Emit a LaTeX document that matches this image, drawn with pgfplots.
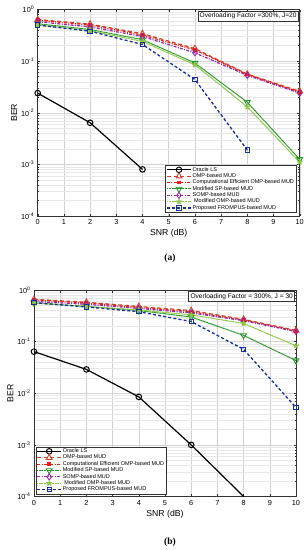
\documentclass[border=0pt]{standalone}
\usepackage{fontspec}
\setmainfont{Liberation Sans}
\newfontfamily\capfont{Liberation Serif}
\usepackage{pgfplots}
\pgfplotsset{compat=1.18}
\definecolor{colomp}{RGB}{200,70,40}
\definecolor{colceomp}{RGB}{235,30,30}
\definecolor{colsp}{RGB}{40,150,40}
\definecolor{colsomp}{RGB}{150,40,160}
\definecolor{colmomp}{RGB}{140,200,70}
\definecolor{colfr}{RGB}{25,45,155}
\pgfplotsset{
 legend image code/.code={\draw[mark repeat=2,mark phase=2,#1] plot coordinates {(0cm,0cm) (0.42cm,0cm) (0.84cm,0cm)};},
 every axis/.append style={
  scale only axis, width=262pt, height=206.5pt,
  xmin=0, xmax=10, ymin=1e-4, ymax=1,
  xtick={0,...,10}, ytick={1e-4,1e-3,1e-2,1e-1,1},
  yticklabels={10\textsuperscript{-4},10\textsuperscript{-3},10\textsuperscript{-2},10\textsuperscript{-1},10\textsuperscript{0}},
  grid=both, major grid style={gray!35, line width=0.4pt}, minor grid style={gray!18, line width=0.35pt},
  tick align=inside, axis line style={black!80, line width=0.5pt},
  major tick length=2.5pt, minor tick length=1.5pt,
  tick style={black!80, line width=0.35pt},
  tick label style={font=\fontsize{7.3}{8}\selectfont},
  label style={font=\fontsize{8.7}{10}\selectfont},
  xlabel style={yshift=2pt}, ylabel style={yshift=-3pt},
  /pgf/number format/assume math mode=true,
  legend cell align=left,
  legend style={font=\fontsize{5.5}{6}\selectfont, draw=black!80, line width=0.5pt, inner sep=0.8pt, row sep=-1.1pt, nodes={inner sep=1pt}},
 },
 sorac/.style={black, line width=1.2pt, mark=o, mark size=2.8pt, mark options={solid, line width=1pt}},
 somp1/.style={colomp, line width=1.2pt, dash pattern=on 4pt off 2.5pt, mark=triangle, mark size=3.4pt, mark options={solid, line width=0.9pt}},
 sceomp/.style={colceomp, line width=1.2pt, dash pattern=on 3pt off 1.3pt on 1pt off 1.3pt, mark=square*, mark size=1.3pt, mark options={solid}},
 smsp/.style={colsp, line width=1pt, dash pattern=on 1.2pt off 0.4pt, mark=triangle, mark size=3.4pt, mark options={solid, rotate=180, line width=0.9pt}},
 ssomp/.style={colsomp, line width=1.2pt, dash pattern=on 3pt off 1.3pt on 1pt off 1.3pt, mark=diamond, mark size=3pt, mark options={solid, line width=0.9pt}},
 smomp/.style={colmomp, line width=1pt, dash pattern=on 1.2pt off 0.4pt, mark=star, mark size=2.8pt, mark options={solid, line width=1.4pt}},
 sfr/.style={colfr, line width=1.3pt, dash pattern=on 3pt off 2.2pt, mark=square, mark size=2.2pt, mark options={solid, line width=0.9pt, fill=colfr!25}},
}
\begin{document}
\begin{tikzpicture}
\path[use as bounding box] (0,0) rectangle (307pt,-550pt);
% ---------------- (a)
\begin{semilogyaxis}[at={(37.7pt,-9.5pt)}, anchor=north west,
  xlabel={SNR (dB)}, ylabel={BER},
  legend style={at={(0.986,0.015)}, anchor=south east}]
\addplot[sorac] coordinates {(0,0.024) (2,0.0064) (4,0.0008)};
\addplot[somp1] coordinates {(0,0.64) (2,0.52) (4,0.34) (6,0.175) (8,0.056) (10,0.026)};
\addplot[sceomp] coordinates {(0,0.62) (2,0.50) (4,0.32) (6,0.165) (8,0.055) (10,0.025)};
\addplot[smsp] coordinates {(0,0.53) (2,0.41) (4,0.26) (6,0.092) (8,0.016) (10,0.00125)};
\addplot[ssomp] coordinates {(0,0.58) (2,0.46) (4,0.30) (6,0.145) (8,0.053) (10,0.024)};
\addplot[smomp] coordinates {(0,0.50) (2,0.39) (4,0.24) (6,0.085) (8,0.013) (10,0.0011)};
\addplot[sfr] coordinates {(0,0.50) (2,0.38) (4,0.21) (6,0.044) (8,0.0019)};
\legend{Oracle LS, OMP-based MUD, Computational Efficient OMP-based MUD, Modified SP-based MUD, SOMP-based MUD, \ Modified OMP-based MUD, Proposed FROMPUS-based MUD}
\node[draw=black!80, fill=white, line width=0.5pt, inner sep=1.8pt, anchor=north east, font=\fontsize{6.6}{7}\selectfont] at (rel axis cs:0.996,0.993) {Overloading Factor =300\%, J=20};
\end{semilogyaxis}
\node[font=\capfont\bfseries\fontsize{9.5}{10}\selectfont] at (170pt,-258pt) {(a)};
% ---------------- (b)
\begin{semilogyaxis}[at={(34pt,-290pt)}, anchor=north west,
  xlabel={SNR (dB)}, ylabel={BER},
  legend style={at={(0.006,0.01)}, anchor=south west}]
\addplot[sorac, mark indices={1,2,3,4}, legend image post style={mark indices={2}}] coordinates {(0,0.064) (2,0.029) (4,0.0085) (6,0.001) (8,0.0001)};
\addplot[somp1] coordinates {(0,0.66) (2,0.58) (4,0.48) (6,0.40) (8,0.27) (10,0.165)};
\addplot[sceomp] coordinates {(0,0.64) (2,0.56) (4,0.46) (6,0.38) (8,0.26) (10,0.16)};
\addplot[smsp] coordinates {(0,0.56) (2,0.48) (4,0.40) (6,0.30) (8,0.132) (10,0.043)};
\addplot[ssomp] coordinates {(0,0.60) (2,0.53) (4,0.44) (6,0.36) (8,0.255) (10,0.157)};
\addplot[smomp] coordinates {(0,0.56) (2,0.48) (4,0.41) (6,0.33) (8,0.225) (10,0.083)};
\addplot[sfr] coordinates {(0,0.57) (2,0.47) (4,0.38) (6,0.245) (8,0.071) (10,0.0053)};
\legend{Oracle LS, OMP-based MUD, Computational Efficient OMP-based MUD, Modified SP-based MUD, SOMP-based MUD, \ Modified OMP-based MUD, Proposed FROMPUS-based MUD}
\node[draw=black!80, fill=white, line width=0.5pt, inner sep=1.8pt, anchor=north east, font=\fontsize{6.6}{7}\selectfont] at (rel axis cs:0.996,0.993) {Overloading Factor = 300\%, J = 30};
\end{semilogyaxis}
\node[font=\capfont\bfseries\fontsize{9.5}{10}\selectfont] at (170pt,-542pt) {(b)};
\end{tikzpicture}
\end{document}
